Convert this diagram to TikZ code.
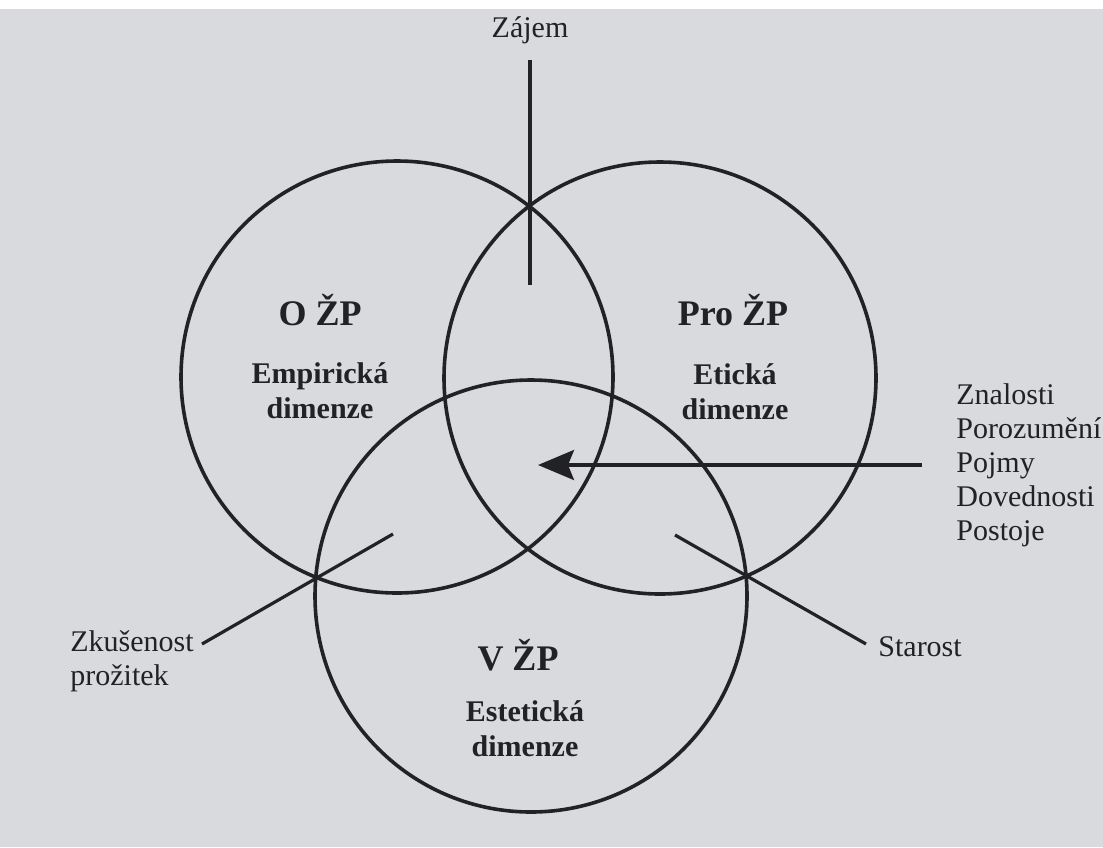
\documentclass[tikz,border=0pt]{standalone}
\usepackage{fontspec}
\setmainfont{Liberation Serif}
\usetikzlibrary{arrows.meta}

\definecolor{paper}{RGB}{216,218,221}
\definecolor{ink}{RGB}{34,34,36}

\begin{document}
\begin{tikzpicture}[
    x=0.5pt, y=-0.5pt,
    ring/.style={circle, draw=ink, line width=1.8pt, minimum size=216pt, inner sep=0pt},
    head/.style={font=\bfseries\fontsize{18}{20}\selectfont, text=ink, inner sep=0pt},
    dim/.style={font=\bfseries\fontsize{15}{17.5}\selectfont, text=ink, align=center, inner sep=0pt},
    word/.style={font=\fontsize{15}{17}\selectfont, text=ink, align=left, inner sep=0pt},
    arrow/.style={-{Stealth[length=18pt, width=15pt, inset=3pt]}, line width=1.7pt, draw=ink},
    line/.style={line width=1.6pt, draw=ink},
]

%% PAPER
    \useasboundingbox (0,0) rectangle (1103,847);
    \fill[paper] (0,0) rectangle (1103,847);
    \fill[white] (0,0) rectangle (1103,9);

%% NODES
    % the three circles
    \node[ring] (o_zp_ring) at (397,377) {};
    \node[ring] (pro_zp_ring) at (660,378) {};
    \node[ring] (v_zp_ring) at (531,596) {};

    % O ZP
    \node[head] (o_zp) at (320,310) {O ŽP};
    \node[dim] (empiricka) at (320,391) {Empirická\\dimenze};

    % Pro ZP
    \node[head] (pro_zp) at (733,310) {Pro ŽP};
    \node[dim] (eticka) at (735,392) {Etická\\dimenze};

    % V ZP
    \node[head] (v_zp) at (518,655) {V ŽP};
    \node[dim] (esteticka) at (525,729) {Estetická\\dimenze};

    % outside words
    \node[word] (zajem) at (530,30) {Zájem};
    \node[word, anchor=west] (znalosti) at (956,465) {Znalosti\\Porozumění\\Pojmy\\Dovednosti\\Postoje};
    \node[word, anchor=west] (zkusenost) at (70,661) {Zkušenost\\prožitek};
    \node[word, anchor=west] (starost) at (878,647) {Starost};

    % free ends
    \coordinate (zajem_top) at (530,60);
    \coordinate (zajem_end) at (530,285);
    \coordinate (znalosti_tip) at (538,465);
    \coordinate (zkusenost_out) at (202,644);
    \coordinate (zkusenost_in) at (393,534);
    \coordinate (starost_out) at (866,644);
    \coordinate (starost_in) at (675,535);

%% CONNECTIONS
    % Zajem -> top
    \draw[line] (zajem_top) -- (zajem_end);

    % Znalosti ... -> centre
    \draw[arrow, shorten <=17pt] (znalosti.west) -- (znalosti_tip);

    % Zkusenost -> lower left
    \draw[line] (zkusenost_out) -- (zkusenost_in);

    % Starost -> lower right
    \draw[line] (starost_out) -- (starost_in);

\end{tikzpicture}
\end{document}
